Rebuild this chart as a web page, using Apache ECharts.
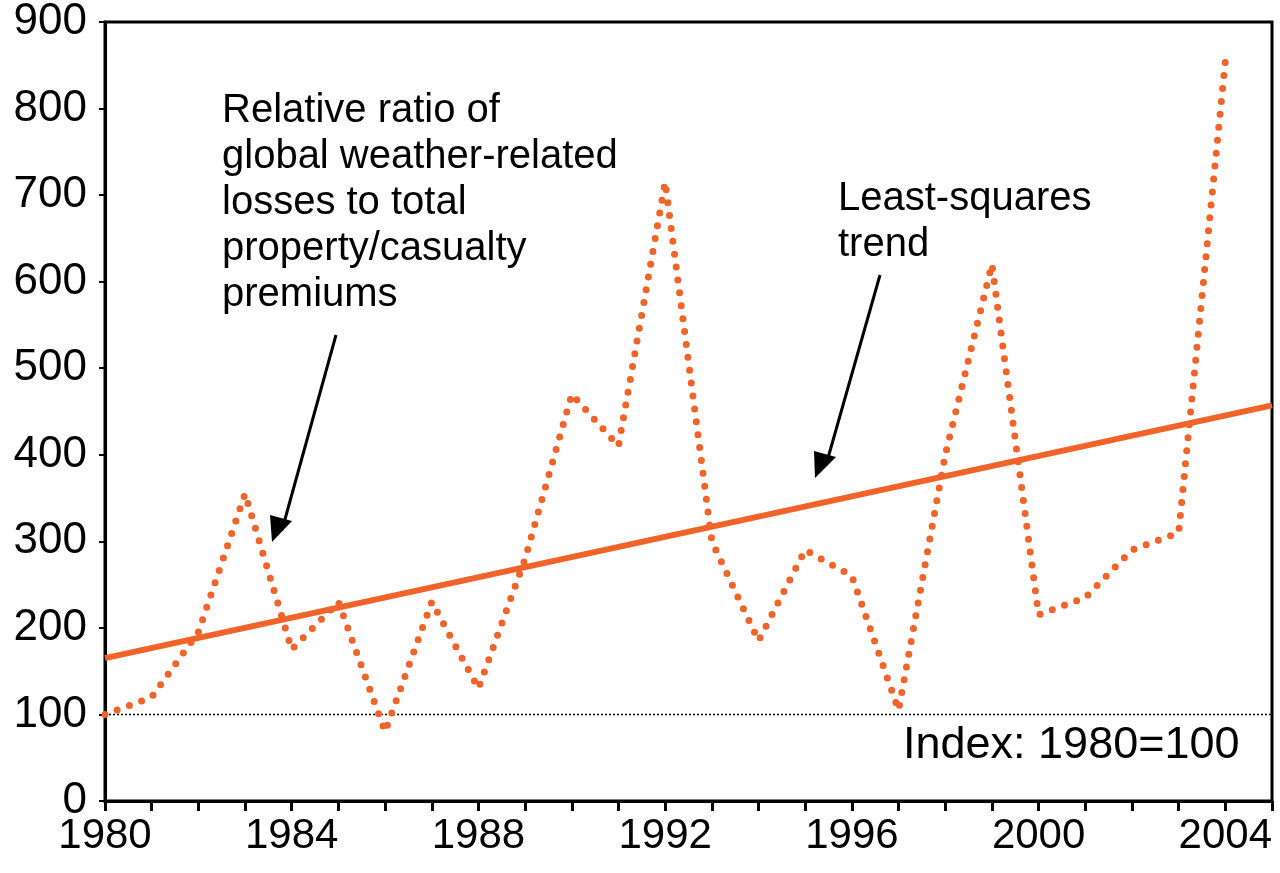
<!DOCTYPE html>
<html><head><meta charset="utf-8">
<script src="https://cdn.jsdelivr.net/npm/echarts@6/dist/echarts.min.js"></script>
<style>html,body{margin:0;padding:0;background:#fff}#c{width:1280px;height:873px}</style>
</head><body><div id="c"></div>
<script>
const years = [1980,1981,1982,1983,1984,1985,1986,1987,1988,1989,1990,1991,1992,1993,1994,1995,1996,1997,1998,1999,2000,2001,2002,2003,2004];
const ratio = [100,120,195,355,175,230,80,230,130,280,470,410,715,300,185,290,260,105,400,620,215,235,290,310,855];
const trendYears = [1980,2005];
const trendValues = [165,457];
const baseline = 100;

const chart = echarts.init(document.getElementById('c'));
const font = 'Liberation Sans, Arial, sans-serif';
chart.setOption({
  animation:false,
  grid:{left:105,right:8,top:20,bottom:72,show:true,borderColor:'#000',borderWidth:3},
  xAxis:{type:'value',min:1980,max:2005,interval:1,
    axisLine:{lineStyle:{color:'#000',width:3}},
    axisTick:{inside:false,length:10,lineStyle:{color:'#000',width:3}},
    axisLabel:{color:'#000',fontSize:42,fontFamily:font,margin:14,
      formatter:v=>(v%4===0 && v<=2004)?String(v):''},
    splitLine:{show:false}},
  yAxis:{type:'value',min:0,max:900,interval:100,
    axisLine:{show:true,lineStyle:{color:'#000',width:3}},
    axisTick:{show:true,length:6,lineStyle:{color:'#000',width:2}},
    axisLabel:{color:'#000',fontSize:44,fontFamily:font,margin:18},
    splitLine:{show:false}},
  series:[
    {type:'line',data:[[1980,baseline],[2005,baseline]],symbol:'none',
      lineStyle:{color:'#000',width:1.5,type:[2,2]},z:1},
    {type:'line',data:years.map((y,i)=>[y,ratio[i]]),symbol:'none',
      lineStyle:{color:'#f0642a',width:7,type:[0,13],cap:'round'},z:2},
    {type:'line',data:trendYears.map((y,i)=>[y,trendValues[i]]),symbol:'none',
      lineStyle:{color:'#f0642a',width:6},z:3}
  ],
  graphic:[
    {type:'text',left:222,top:88,style:{text:'Relative ratio of\nglobal weather-related\nlosses to total\nproperty/casualty\npremiums',font:'40px '+font,fill:'#000',lineHeight:46}},
    {type:'text',left:838,top:176,style:{text:'Least-squares\ntrend',font:'40px '+font,fill:'#000',lineHeight:46}},
    {type:'text',left:903,top:723,style:{text:'Index: 1980=100',font:'45px '+font,fill:'#000'}},
    {type:'line',shape:{x1:336,y1:335,x2:282,y2:530},style:{stroke:'#000',lineWidth:3}},
    {type:'polygon',shape:{points:[[272,542],[270,515],[292,521]]},style:{fill:'#000'}},
    {type:'line',shape:{x1:880,y1:275,x2:826,y2:465},style:{stroke:'#000',lineWidth:3}},
    {type:'polygon',shape:{points:[[815,478],[814,451],[836,457]]},style:{fill:'#000'}}
  ]
});
</script></body></html>
